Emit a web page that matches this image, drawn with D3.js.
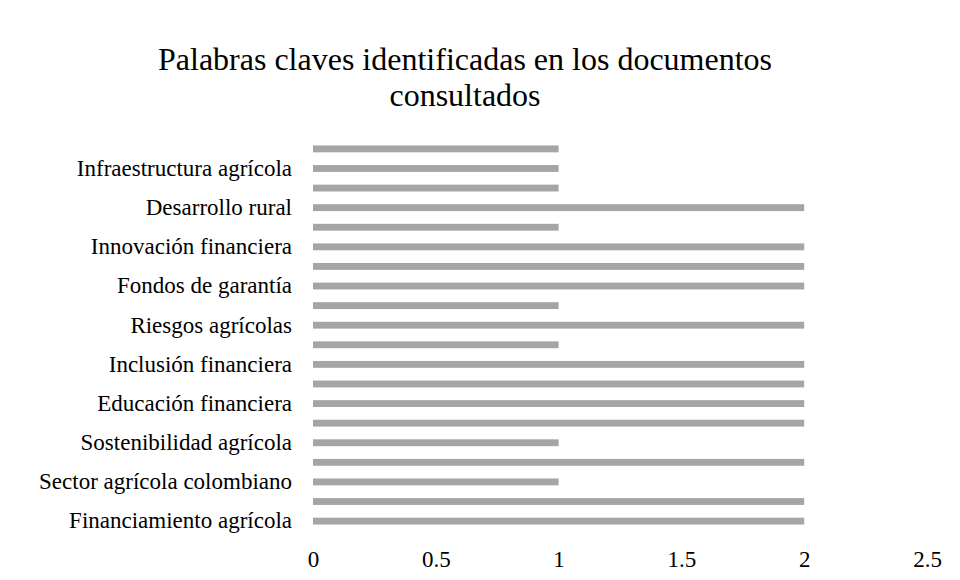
<!DOCTYPE html>
<html>
<head>
<meta charset="utf-8">
<script src="https://cdn.jsdelivr.net/npm/d3@7"></script>
</head>
<body style="margin:0">
<div id="chart"></div>
<script>
// categories listed bottom-up, as in the source; empty names are not labelled
const keywords = [
  "Financiamiento agrícola", "",
  "Sector agrícola colombiano", "",
  "Sostenibilidad agrícola", "",
  "Educación financiera", "",
  "Inclusión financiera", "",
  "Riesgos agrícolas", "",
  "Fondos de garantía", "",
  "Innovación financiera", "",
  "Desarrollo rural", "",
  "Infraestructura agrícola", ""
];
const counts = [2, 2, 1, 2, 1, 2, 2, 2, 2, 1, 2, 1, 2, 2, 2, 1, 2, 1, 1, 1];
const xTicks = [0, 0.5, 1, 1.5, 2, 2.5];
const titleLines = ["Palabras claves identificadas en los documentos", "consultados"];

const FONT = "Liberation Serif, Tinos, Times New Roman, serif";
const width = 960, height = 580;
const margin = { top: 139, right: 33, bottom: 49, left: 313 };
const innerW = width - margin.left - margin.right;
const innerH = height - margin.top - margin.bottom;

const svg = d3.select("#chart").append("svg")
  .attr("width", width)
  .attr("height", height)
  .attr("font-family", FONT);

// === Title ===
svg.selectAll(".title")
  .data(titleLines)
  .join("text")
  .attr("x", 465)
  .attr("y", (d, i) => 70 + i * 36)
  .attr("text-anchor", "middle")
  .style("font-size", "32px")
  .text(d => d);

const g = svg.append("g").attr("transform", `translate(${margin.left},${margin.top})`);

// === Scales ===
const x = d3.scaleLinear().domain([0, 2.5]).range([0, innerW]);
const y = d3.scaleBand()
  .domain(d3.range(keywords.length))
  .range([innerH, 0])
  .paddingInner(0.65)
  .paddingOuter(0.33);

// === Bars ===
g.append("g")
  .selectAll("rect")
  .data(counts)
  .join("rect")
  .attr("x", x(0))
  .attr("y", (d, i) => y(i))
  .attr("width", d => x(d) - x(0))
  .attr("height", y.bandwidth())
  .attr("fill", "#a5a5a5");

// === Axes ===
const yAxis = g.append("g")
  .call(d3.axisLeft(y).tickFormat(i => keywords[i]).tickSize(0).tickPadding(21));
yAxis.select(".domain").remove();
yAxis.attr("font-family", FONT);

const xAxis = g.append("g")
  .attr("transform", `translate(0,${innerH})`)
  .call(d3.axisBottom(x).tickValues(xTicks).tickFormat(d3.format("")).tickSize(0).tickPadding(20));
xAxis.select(".domain").remove();
xAxis.attr("font-family", FONT);

g.selectAll(".tick text")
  .style("font-size", "23px");
</script>
</body>
</html>
